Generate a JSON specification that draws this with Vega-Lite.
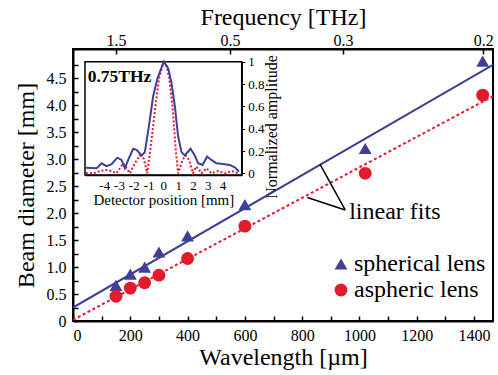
{
  "$schema": "https://vega.github.io/schema/vega-lite/v6.json",
  "width": 420,
  "height": 272,
  "autosize": {"type": "none"},
  "padding": {"left": 73, "top": 49, "right": 5, "bottom": 54},
  "background": "white",
  "config": {
    "view": {"stroke": "black", "strokeWidth": 2},
    "font": "Liberation Serif",
    "axis": {
      "grid": false,
      "domainColor": "black",
      "tickColor": "black",
      "labelColor": "black",
      "titleColor": "black",
      "labelFont": "Liberation Serif",
      "titleFont": "Liberation Serif",
      "titleFontWeight": "normal"
    },
    "legend": {"labelFont": "Liberation Serif", "labelColor": "black"}
  },
  "resolve": {
    "scale": {"x": "independent", "y": "independent"},
    "axis": {"x": "independent", "y": "independent"}
  },
  "layer": [
    {
      "resolve": {"scale": {"x": "shared", "y": "shared"}, "axis": {"x": "independent", "y": "independent"}},
      "layer": [
        {
          "data": {"values": [{"w": 0, "d": 0.25}, {"w": 1466, "d": 4.75}]},
          "mark": {"type": "line", "color": "#3f3f9a", "strokeWidth": 2, "clip": true},
          "encoding": {
            "x": {"field": "w", "type": "quantitative", "scale": {"domain": [0, 1466], "nice": false, "zero": false},
              "axis": {"orient": "top", "values": [150, 548, 942, 1432],
                "labelExpr": "datum.value < 300 ? '1.5' : datum.value < 700 ? '0.5' : datum.value < 1200 ? '0.3' : '0.2'",
                "tickSize": -5, "tickWidth": 1.5, "labelPadding": 6, "labelFontSize": 16, "domainWidth": 2,
                "title": "Frequency [THz]", "titleFontSize": 24, "titlePadding": 3}},
            "y": {"field": "d", "type": "quantitative", "scale": {"domain": [0, 5.046], "nice": false, "zero": false}, "axis": null}
          }
        },
        {
          "data": {"values": [{"w": 0, "d": 0.02}, {"w": 1466, "d": 4.17}]},
          "mark": {"type": "line", "color": "#e31a2c", "strokeWidth": 2, "strokeDash": [3, 2.5], "clip": true},
          "encoding": {
            "x": {"field": "w", "type": "quantitative", "scale": {"domain": [0, 1466], "nice": false, "zero": false}, "axis": null},
            "y": {"field": "d", "type": "quantitative", "scale": {"domain": [0, 5.046], "nice": false, "zero": false}, "axis": null}
          }
        },
        {
          "data": {"values": [
            {"x": 862, "y": 2.91, "x2": 950, "y2": 2.06},
            {"x": 818, "y": 2.29, "x2": 950, "y2": 2.06}
          ]},
          "mark": {"type": "rule", "color": "black", "strokeWidth": 1.5},
          "encoding": {
            "x": {"field": "x", "type": "quantitative", "scale": {"domain": [0, 1466], "nice": false, "zero": false}, "axis": null},
            "y": {"field": "y", "type": "quantitative", "scale": {"domain": [0, 5.046], "nice": false, "zero": false}, "axis": null},
            "x2": {"field": "x2"},
            "y2": {"field": "y2"}
          }
        },
        {
          "data": {"values": [{"x": 964, "y": 1.89, "t": "linear fits"}]},
          "mark": {"type": "text", "align": "left", "baseline": "alphabetic", "fontSize": 24, "font": "Liberation Serif", "color": "black"},
          "encoding": {
            "x": {"field": "x", "type": "quantitative", "scale": {"domain": [0, 1466], "nice": false, "zero": false}, "axis": null},
            "y": {"field": "y", "type": "quantitative", "scale": {"domain": [0, 5.046], "nice": false, "zero": false}, "axis": null},
            "text": {"field": "t"}
          }
        },
        {
          "data": {"values": [
            {"w": 150, "d": 0.66, "lens": "spherical lens"},
            {"w": 200, "d": 0.87, "lens": "spherical lens"},
            {"w": 250, "d": 1.0, "lens": "spherical lens"},
            {"w": 300, "d": 1.28, "lens": "spherical lens"},
            {"w": 400, "d": 1.58, "lens": "spherical lens"},
            {"w": 600, "d": 2.16, "lens": "spherical lens"},
            {"w": 1020, "d": 3.2, "lens": "spherical lens"},
            {"w": 1430, "d": 4.82, "lens": "spherical lens"},
            {"w": 150, "d": 0.46, "lens": "aspheric lens"},
            {"w": 200, "d": 0.61, "lens": "aspheric lens"},
            {"w": 250, "d": 0.71, "lens": "aspheric lens"},
            {"w": 300, "d": 0.85, "lens": "aspheric lens"},
            {"w": 400, "d": 1.16, "lens": "aspheric lens"},
            {"w": 600, "d": 1.76, "lens": "aspheric lens"},
            {"w": 1020, "d": 2.74, "lens": "aspheric lens"},
            {"w": 1430, "d": 4.19, "lens": "aspheric lens"}
          ]},
          "mark": {"type": "point", "filled": true, "opacity": 1, "size": 165},
          "encoding": {
            "x": {"field": "w", "type": "quantitative", "scale": {"domain": [0, 1466], "nice": false, "zero": false},
              "axis": {"orient": "bottom", "values": [0, 100, 200, 300, 400, 500, 600, 700, 800, 900, 1000, 1100, 1200, 1300, 1400],
                "format": "d", "labelExpr": "datum.value % 200 == 0 ? datum.label : ''",
                "tickSize": -5, "tickWidth": 1.5, "labelPadding": 11, "labelFontSize": 16, "domainWidth": 2,
                "title": "Wavelength [µm]", "titleFontSize": 24, "titlePadding": 2}},
            "y": {"field": "d", "type": "quantitative", "scale": {"domain": [0, 5.046], "nice": false, "zero": false},
              "axis": {"orient": "left", "values": [0, 0.25, 0.5, 0.75, 1, 1.25, 1.5, 1.75, 2, 2.25, 2.5, 2.75, 3, 3.25, 3.5, 3.75, 4, 4.25, 4.5, 4.75],
                "labelExpr": "datum.value == 0 ? '0' : ((datum.value * 2) % 1 == 0 ? format(datum.value, '.1f') : '')",
                "tickSize": -5, "tickWidth": 1.5, "labelPadding": 12, "labelFontSize": 16, "domainWidth": 2,
                "title": "Beam diameter [mm]", "titleFontSize": 24, "titlePadding": 8}},
            "color": {"field": "lens", "type": "nominal",
              "scale": {"domain": ["spherical lens", "aspheric lens"], "range": ["#3f3f9a", "#e31a2c"]},
              "legend": {"orient": "none", "legendX": 256, "legendY": 203, "title": null, "labelFontSize": 24, "symbolSize": 165, "labelOffset": 1, "rowPadding": 2, "padding": 0, "symbolStrokeWidth": 0}},
            "shape": {"field": "lens", "type": "nominal",
              "scale": {"domain": ["spherical lens", "aspheric lens"], "range": ["triangle-up", "circle"]},
              "legend": {"orient": "none", "legendX": 256, "legendY": 203, "title": null, "labelFontSize": 24, "symbolSize": 165, "labelOffset": 1, "rowPadding": 2, "padding": 0, "symbolStrokeWidth": 0}}
          }
        }
      ]
    },
    {
      "resolve": {"scale": {"x": "shared", "y": "shared"}, "axis": {"x": "independent", "y": "independent"}},
      "layer": [
        {
          "data": {"values": [{"r": "frame"}]},
          "mark": {"type": "rect", "fill": null, "stroke": "black", "strokeWidth": 1.5},
          "encoding": {
            "x": {"datum": -5.3, "type": "quantitative", "scale": {"domain": [-5.3, 5.3], "range": [12, 168.7], "nice": false, "zero": false}, "axis": null},
            "x2": {"datum": 5.3},
            "y": {"datum": -0.015, "type": "quantitative", "scale": {"domain": [-0.015, 1.0], "range": [126, 12.7], "nice": false, "zero": false}, "axis": null},
            "y2": {"datum": 1.0}
          }
        },
        {
          "data": {"values": [
            {"pos": -5.24, "amp": 0.0}, {"pos": -4.74, "amp": 0.0}, {"pos": -4.3, "amp": 0.02}, {"pos": -3.84, "amp": 0.03},
            {"pos": -3.5, "amp": 0.02}, {"pos": -3.18, "amp": 0.0}, {"pos": -2.94, "amp": 0.045}, {"pos": -2.72, "amp": 0.09},
            {"pos": -2.49, "amp": 0.045}, {"pos": -2.26, "amp": 0.0}, {"pos": -1.93, "amp": 0.09}, {"pos": -1.59, "amp": 0.16},
            {"pos": -1.32, "amp": 0.13}, {"pos": -1.09, "amp": 0.0}, {"pos": -0.8, "amp": 0.3}, {"pos": -0.51, "amp": 0.63},
            {"pos": -0.28, "amp": 0.86}, {"pos": -0.01, "amp": 0.985}, {"pos": 0.17, "amp": 0.985}, {"pos": 0.39, "amp": 0.86},
            {"pos": 0.62, "amp": 0.6}, {"pos": 0.84, "amp": 0.21}, {"pos": 1.0, "amp": 0.0}, {"pos": 1.3, "amp": 0.12},
            {"pos": 1.52, "amp": 0.16}, {"pos": 1.74, "amp": 0.12}, {"pos": 2.01, "amp": 0.0}, {"pos": 2.2, "amp": 0.06},
            {"pos": 2.35, "amp": 0.045}, {"pos": 2.58, "amp": 0.0}, {"pos": 2.92, "amp": 0.045}, {"pos": 3.26, "amp": 0.0},
            {"pos": 3.7, "amp": 0.02}, {"pos": 4.16, "amp": 0.0}, {"pos": 4.61, "amp": 0.02}, {"pos": 5.12, "amp": 0.0}
          ]},
          "mark": {"type": "line", "color": "#e31a2c", "strokeWidth": 2, "strokeDash": [2, 2]},
          "encoding": {
            "x": {"field": "pos", "type": "quantitative", "scale": {"domain": [-5.3, 5.3], "range": [12, 168.7], "nice": false, "zero": false}, "axis": null},
            "y": {"field": "amp", "type": "quantitative", "scale": {"domain": [-0.015, 1.0], "range": [126, 12.7], "nice": false, "zero": false}, "axis": null}
          }
        },
        {
          "data": {"values": [
            {"pos": -5.24, "amp": 0.05}, {"pos": -4.51, "amp": 0.045}, {"pos": -4.18, "amp": 0.09}, {"pos": -3.84, "amp": 0.065},
            {"pos": -3.5, "amp": 0.083}, {"pos": -3.12, "amp": 0.14}, {"pos": -2.83, "amp": 0.12}, {"pos": -2.6, "amp": 0.045},
            {"pos": -2.38, "amp": 0.12}, {"pos": -2.04, "amp": 0.22}, {"pos": -1.81, "amp": 0.21}, {"pos": -1.47, "amp": 0.16},
            {"pos": -1.25, "amp": 0.19}, {"pos": -0.98, "amp": 0.42}, {"pos": -0.69, "amp": 0.69}, {"pos": -0.42, "amp": 0.84},
            {"pos": -0.12, "amp": 0.95}, {"pos": 0.03, "amp": 1.0}, {"pos": 0.33, "amp": 0.94}, {"pos": 0.55, "amp": 0.81},
            {"pos": 0.78, "amp": 0.6}, {"pos": 1.0, "amp": 0.33}, {"pos": 1.23, "amp": 0.19}, {"pos": 1.45, "amp": 0.16},
            {"pos": 1.84, "amp": 0.22}, {"pos": 2.13, "amp": 0.16}, {"pos": 2.35, "amp": 0.09}, {"pos": 2.65, "amp": 0.075},
            {"pos": 2.96, "amp": 0.15}, {"pos": 3.25, "amp": 0.12}, {"pos": 3.59, "amp": 0.09}, {"pos": 4.04, "amp": 0.083},
            {"pos": 4.49, "amp": 0.075}, {"pos": 4.83, "amp": 0.054}, {"pos": 5.12, "amp": 0.015}
          ]},
          "mark": {"type": "line", "color": "#3f3f9a", "strokeWidth": 2},
          "encoding": {
            "x": {"field": "pos", "type": "quantitative", "scale": {"domain": [-5.3, 5.3], "range": [12, 168.7], "nice": false, "zero": false},
              "axis": {"orient": "bottom", "offset": -146, "values": [-4, -3, -2, -1, 0, 1, 2, 3, 4], "labelExpr": "datum.value + ''",
                "ticks": false, "labelPadding": 4, "labelFontSize": 13, "domainWidth": 1.5,
                "title": "Detector position [mm]", "titleFontSize": 15, "titlePadding": 0}},
            "y": {"field": "amp", "type": "quantitative", "scale": {"domain": [-0.015, 1.0], "range": [126, 12.7], "nice": false, "zero": false},
              "axis": {"orient": "right", "offset": -251.3, "values": [0, 0.2, 0.4, 0.6, 0.8, 1], "format": "~g",
                "tickSize": 3, "tickWidth": 1, "labelPadding": 3, "labelFontSize": 13, "domainWidth": 1.5,
                "title": "Normalized amplitude", "titleFontSize": 16, "titleAngle": -90, "titlePadding": 16, "titleY": 77.5}}
          }
        },
        {
          "data": {"values": [{"t": "0.75THz"}]},
          "mark": {"type": "text", "align": "left", "baseline": "alphabetic", "fontSize": 17.5, "fontWeight": "bold", "font": "Liberation Serif", "color": "black"},
          "encoding": {
            "x": {"datum": -5.12, "type": "quantitative", "scale": {"domain": [-5.3, 5.3], "range": [12, 168.7], "nice": false, "zero": false}, "axis": null},
            "y": {"datum": 0.815, "type": "quantitative", "scale": {"domain": [-0.015, 1.0], "range": [126, 12.7], "nice": false, "zero": false}, "axis": null},
            "text": {"field": "t"}
          }
        }
      ]
    }
  ]
}
